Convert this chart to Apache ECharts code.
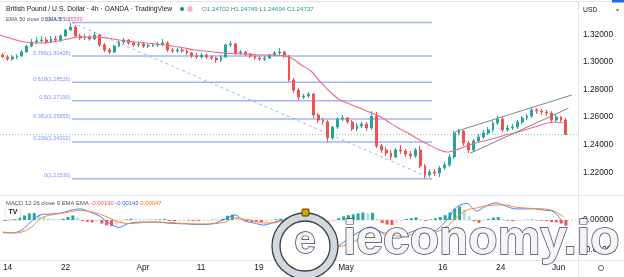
<!DOCTYPE html>
<html>
<head>
<meta charset="utf-8">
<script src="https://cdn.jsdelivr.net/npm/echarts@6/dist/echarts.min.js"></script>
<style>
html,body{margin:0;padding:0;background:#fff;}
#chart{width:624px;height:277px;}
</style>
</head>
<body>
<div id="chart"></div>
<script>
// ---------- DATA ----------
// 12-hour candles, Mar 11 (PM) .. Jun 1 (PM)
const candleOpen = [
1.3050,1.3036,1.3021,1.3036,1.3043,1.3072,1.3115,1.3144,1.3152,1.3159,
1.3144,1.3166,1.3159,1.3188,1.3231,1.3253,1.3188,1.3173,1.3181,1.3166,
1.3195,1.3123,1.3086,1.3072,1.3115,1.3144,1.3159,1.3137,1.3123,1.3130,
1.3115,1.3119,1.3123,1.3130,1.3137,1.3086,1.3079,1.3086,1.3079,1.3065,
1.3043,1.3036,1.3050,1.3036,1.3028,1.3014,1.3036,1.3123,1.3130,1.3065,
1.3072,1.3057,1.3043,1.3028,1.3021,1.3028,1.3050,1.3065,1.3072,1.3043,
1.2869,1.2796,1.2746,1.2753,1.2767,1.2615,1.2579,1.2565,1.2449,1.2528,
1.2586,1.2594,1.2565,1.2514,1.2536,1.2550,1.2521,1.2608,1.2391,1.2362,
1.2340,1.2311,1.2362,1.2354,1.2333,1.2318,1.2362,1.2246,1.2181,1.2202,
1.2195,1.2231,1.2253,1.2311,1.2485,1.2499,1.2412,1.2362,1.2427,1.2456,
1.2485,1.2507,1.2557,1.2586,1.2507,1.2521,1.2528,1.2565,1.2594,1.2608,
1.2652,1.2644,1.2637,1.2630,1.2579,1.2601,1.2579];
const candleClose = [
1.3036,1.3021,1.3036,1.3043,1.3072,1.3115,1.3144,1.3152,1.3159,1.3144,
1.3166,1.3159,1.3188,1.3231,1.3253,1.3188,1.3173,1.3181,1.3166,1.3195,
1.3123,1.3086,1.3072,1.3115,1.3144,1.3159,1.3137,1.3123,1.3130,1.3115,
1.3119,1.3123,1.3130,1.3137,1.3086,1.3079,1.3086,1.3079,1.3065,1.3043,
1.3036,1.3050,1.3036,1.3028,1.3014,1.3036,1.3123,1.3130,1.3065,1.3072,
1.3057,1.3043,1.3028,1.3021,1.3028,1.3050,1.3065,1.3072,1.3043,1.2869,
1.2796,1.2746,1.2753,1.2767,1.2615,1.2579,1.2565,1.2449,1.2528,1.2586,
1.2594,1.2565,1.2514,1.2536,1.2550,1.2521,1.2608,1.2391,1.2362,1.2340,
1.2311,1.2362,1.2354,1.2333,1.2318,1.2362,1.2246,1.2181,1.2202,1.2195,
1.2231,1.2253,1.2311,1.2485,1.2499,1.2412,1.2362,1.2427,1.2456,1.2485,
1.2507,1.2557,1.2586,1.2507,1.2521,1.2528,1.2565,1.2594,1.2608,1.2652,
1.2644,1.2637,1.2630,1.2579,1.2601,1.2579,1.24737];
const candleLow = [
1.3028,1.3007,1.3007,1.3021,1.3036,1.3065,1.3108,1.3130,1.3137,1.3130,
1.3137,1.3144,1.3144,1.3181,1.3224,1.3173,1.3159,1.3159,1.3152,1.3159,
1.3108,1.3072,1.3057,1.3065,1.3108,1.3130,1.3123,1.3108,1.3108,1.3101,
1.3101,1.3108,1.3108,1.3115,1.3072,1.3065,1.3065,1.3065,1.3050,1.3028,
1.3021,1.3028,1.3021,1.3014,1.2992,1.2999,1.3028,1.3108,1.3050,1.3050,
1.3043,1.3028,1.3014,1.3007,1.3007,1.3021,1.3043,1.3050,1.3028,1.2854,
1.2775,1.2724,1.2731,1.2738,1.2594,1.2557,1.2543,1.2420,1.2434,1.2514,
1.2572,1.2550,1.2499,1.2499,1.2521,1.2499,1.2507,1.2376,1.2340,1.2318,
1.2289,1.2304,1.2333,1.2311,1.2296,1.2304,1.2231,1.2153,1.2166,1.2173,
1.2166,1.2217,1.2239,1.2296,1.2470,1.2391,1.2340,1.2347,1.2412,1.2441,
1.2470,1.2492,1.2543,1.2492,1.2492,1.2507,1.2514,1.2550,1.2579,1.2594,
1.2623,1.2615,1.2608,1.2557,1.2565,1.2557,1.2469];
const candleHigh = [
1.3065,1.3050,1.3050,1.3057,1.3086,1.3123,1.3166,1.3181,1.3188,1.3181,
1.3188,1.3188,1.3202,1.3239,1.3284,1.3267,1.3202,1.3202,1.3195,1.3217,
1.3202,1.3137,1.3101,1.3123,1.3159,1.3173,1.3166,1.3152,1.3144,1.3144,
1.3130,1.3137,1.3144,1.3166,1.3152,1.3101,1.3101,1.3101,1.3094,1.3072,
1.3065,1.3065,1.3057,1.3050,1.3036,1.3050,1.3130,1.3152,1.3137,1.3086,
1.3079,1.3065,1.3050,1.3043,1.3043,1.3057,1.3079,1.3101,1.3079,1.3050,
1.2883,1.2811,1.2767,1.2782,1.2775,1.2630,1.2594,1.2579,1.2536,1.2601,
1.2615,1.2601,1.2579,1.2557,1.2565,1.2565,1.2644,1.2637,1.2405,1.2383,
1.2362,1.2376,1.2398,1.2369,1.2354,1.2376,1.2391,1.2260,1.2224,1.2224,
1.2246,1.2275,1.2333,1.2499,1.2514,1.2507,1.2427,1.2441,1.2478,1.2507,
1.2528,1.2572,1.2608,1.2601,1.2543,1.2550,1.2579,1.2608,1.2623,1.2666,
1.2666,1.2659,1.2652,1.2644,1.2623,1.2608,1.2594];

// EMA 50, one reading per trading day (day -1 .. 57, at mid-day)
const emaValues = [
1.3195,1.3173,1.3151,1.3141,1.3137,1.3141,1.3151,1.3166,1.3180,1.3180,
1.3180,1.3173,1.3162,1.3151,1.3144,1.3137,1.3130,1.3122,1.3112,1.3101,
1.3086,1.3079,1.3072,1.3064,1.3061,1.3057,1.3054,1.3050,1.3050,1.3046,
1.3028,1.2978,1.2934,1.2854,1.2782,1.2724,1.2695,1.2666,1.2637,1.2608,
1.2565,1.2521,1.2485,1.2441,1.2405,1.2369,1.2347,1.2362,1.2391,1.2412,
1.2430,1.2449,1.2470,1.2485,1.2507,1.2528,1.2550,1.2565,1.2557];

// MACD (12,26,9) per trading day
const macdLine = [
-0.0040,-0.0043,-0.0033,-0.0003,0.0018,0.0020,0.0023,0.0032,0.0037,0.0027,
0.0013,-0.0010,-0.0025,-0.0012,-0.0007,-0.0007,-0.0007,-0.0010,-0.0012,-0.0013,
-0.0015,-0.0015,-0.0010,0.0003,0.0017,-0.0003,-0.0010,-0.0017,-0.0008,0.0000,
-0.0027,-0.0057,-0.0080,-0.0093,-0.0100,-0.0080,-0.0057,-0.0037,-0.0023,-0.0037,
-0.0060,-0.0060,-0.0043,-0.0033,-0.0043,-0.0030,0.0003,0.0045,0.0055,0.0030,
0.0047,0.0057,0.0047,0.0037,0.0037,0.0037,0.0033,0.0027,-0.0010];
const signalLine = [
-0.0043,-0.0043,-0.0040,-0.0023,0.0007,0.0017,0.0022,0.0027,0.0032,0.0028,
0.0020,0.0007,-0.0007,-0.0012,-0.0010,-0.0007,-0.0007,-0.0008,-0.0010,-0.0012,
-0.0013,-0.0013,-0.0012,-0.0007,0.0007,0.0003,-0.0003,-0.0010,-0.0010,-0.0003,
-0.0010,-0.0030,-0.0053,-0.0073,-0.0087,-0.0087,-0.0077,-0.0060,-0.0043,-0.0040,
-0.0047,-0.0053,-0.0050,-0.0043,-0.0043,-0.0038,-0.0020,0.0010,0.0033,0.0040,
0.0047,0.0050,0.0050,0.0043,0.0040,0.0038,0.0037,0.0030,0.0010];
// MACD histogram per 12h bar
const macdHist = [
-0.0003,-0.0002,0.0002,0.0008,0.0015,0.0022,0.0023,0.0018,0.0010,0.0005,
0.0003,0.0002,0.0004,0.0010,0.0015,0.0008,-0.0003,-0.0006,-0.0008,-0.0006,
-0.0012,-0.0018,-0.0020,-0.0017,-0.0008,0.0002,0.0004,0.0003,0.0002,0.0001,
0.0001,0.0001,0.0002,0.0003,-0.0003,-0.0004,-0.0003,-0.0002,-0.0002,-0.0003,
-0.0003,-0.0002,-0.0001,0.0001,0.0001,0.0004,0.0014,0.0018,0.0010,0.0003,
-0.0004,-0.0006,-0.0007,-0.0007,-0.0005,-0.0002,0.0002,0.0004,0.0003,-0.0010,
-0.0020,-0.0027,-0.0028,-0.0026,-0.0030,-0.0025,-0.0020,-0.0016,-0.0005,0.0006,
0.0012,0.0016,0.0019,0.0022,0.0025,0.0022,0.0024,0.0005,-0.0010,-0.0015,
-0.0017,-0.0010,-0.0005,0.0003,0.0006,0.0009,0.0003,-0.0003,0.0002,0.0006,
0.0010,0.0016,0.0025,0.0038,0.0045,0.0035,0.0012,-0.0004,-0.0009,-0.0003,
0.0003,0.0008,0.0010,0.0004,-0.0002,-0.0004,-0.0002,-0.0001,0.0001,0.0002,
-0.0001,-0.0002,-0.0003,-0.0007,-0.0008,-0.0012,-0.0019];

// Fibonacci retracement drawing (anchored Mar 23 high -> May 13 low), in trading-day units
const fibRatios = [1, 0.786, 0.618, 0.5, 0.382, 0.236, 0];
const fibPrices = [1.32850, 1.30428, 1.28526, 1.27190, 1.25855, 1.24202, 1.21530];
const fibAnchors = [6.91, 43.97];
// Rising channel lines [day, price]
const channelUpper = [[46.34, 1.24942], [58.35, 1.27601]];
const channelLower = [[47.88, 1.23377], [58.00, 1.26638]];
const lastPrice = 1.24737;

// Axis ticks
const dayTicks = [0, 6, 14, 20, 26, 35, 45, 51, 57];
const dayTickLabels = ['14', '22', 'Apr', '11', '19', 'May', '16', '24', 'Jun'];
const priceTicks = [1.22, 1.24, 1.26, 1.28, 1.30, 1.32];
const macdTicks = [0, -0.01];
const barCount = 119;

// ---------- CHART ----------
const categories = Array.from({length: barCount}, (_, i) => 'b' + i);
const FONT = '"Liberation Sans", Arial, sans-serif';
const UP = '#26a69a', DOWN = '#ef5350';

const candleData = candleOpen.map((o, i) => [o, candleClose[i], candleLow[i], candleHigh[i]]);
const dayPairs = arr => arr.map((v, i) => [i - 0.5, v]);

function histColor(i) {
  const v = macdHist[i], p = i > 0 ? macdHist[i - 1] : 0;
  if (v >= 0) return v >= p ? '#26a69a' : '#b2dfdb';
  return v <= p ? '#ff5252' : '#ffcdd2';
}

const series = [];
fibPrices.forEach((p, i) => {
  series.push({
    type: 'line', xAxisIndex: 1, yAxisIndex: 0, symbol: 'none', silent: true, z: 1,
    data: [[fibAnchors[0], p], [fibAnchors[1], p]],
    lineStyle: {color: '#a3b5f8', width: 1.5}
  });
});
series.push({
  type: 'scatter', xAxisIndex: 1, yAxisIndex: 0, symbolSize: 1, z: 1,
  itemStyle: {color: 'rgba(0,0,0,0)'},
  data: fibPrices.map((p, i) => ({value: [fibAnchors[0], p],
    label: {formatter: fibRatios[i] + '(' + p.toFixed(5) + ')'}})),
  label: {show: true, position: 'left', distance: 1, offset: [0, -3],
    fontSize: 5.5, fontFamily: FONT, color: '#5a7bf5'}
});
series.push({
  type: 'line', xAxisIndex: 1, yAxisIndex: 0, symbol: 'none', z: 1,
  data: [[fibAnchors[0], fibPrices[0]], [fibAnchors[1], fibPrices[6]]],
  lineStyle: {color: '#9fb2f7', width: 1, type: [3, 3]}
});
series.push({
  type: 'line', xAxisIndex: 1, yAxisIndex: 0, symbol: 'none', z: 1,
  data: [[-0.5, lastPrice], [59, lastPrice]],
  lineStyle: {color: '#7fcfc6', width: 1, type: [1, 2]}
});
series.push({
  type: 'candlestick', xAxisIndex: 0, yAxisIndex: 0, z: 3,
  data: candleData, barMaxWidth: 2.4,
  itemStyle: {color: UP, color0: DOWN, borderColor: UP, borderColor0: DOWN, borderWidth: 1}
});
series.push({
  type: 'line', xAxisIndex: 1, yAxisIndex: 0, symbol: 'none', smooth: 0.3, z: 4,
  data: dayPairs(emaValues), lineStyle: {color: '#f0668a', width: 1.1}
});
[channelUpper, channelLower].forEach(c => series.push({
  type: 'line', xAxisIndex: 1, yAxisIndex: 0, symbol: 'none', z: 5,
  data: c, lineStyle: {color: '#80838d', width: 1}
}));
series.push({
  type: 'line', xAxisIndex: 3, yAxisIndex: 1, symbol: 'none', z: 1,
  data: [[-0.5, 0], [59, 0]], lineStyle: {color: '#d0d2d8', width: 1, type: [2, 2]}
});
series.push({
  type: 'bar', xAxisIndex: 2, yAxisIndex: 1, barWidth: '62%', z: 2,
  data: macdHist.map((v, i) => ({value: v, itemStyle: {color: histColor(i)}}))
});
series.push({
  type: 'line', xAxisIndex: 3, yAxisIndex: 1, symbol: 'none', smooth: 0.3, z: 3,
  data: dayPairs(macdLine), lineStyle: {color: '#4a7dff', width: 1}
});
series.push({
  type: 'line', xAxisIndex: 3, yAxisIndex: 1, symbol: 'none', smooth: 0.3, z: 3,
  data: dayPairs(signalLine), lineStyle: {color: '#ff8a2a', width: 1}
});

const axisTextColor = '#131722';
const option = {
  animation: false,
  backgroundColor: '#ffffff',
  grid: [
    {left: 0, right: 46, top: 2, bottom: 82},
    {left: 0, right: 46, top: 196, bottom: 17}
  ],
  xAxis: [
    {type: 'category', gridIndex: 0, data: categories, show: false, boundaryGap: true},
    {type: 'value', gridIndex: 0, min: -0.5, max: 59, show: false},
    {type: 'category', gridIndex: 1, data: categories, show: false, boundaryGap: true},
    {type: 'value', gridIndex: 1, min: -0.5, max: 59, position: 'bottom',
      axisLine: {show: false}, axisTick: {show: false}, splitLine: {show: false},
      axisLabel: {customValues: dayTicks, margin: 4, fontSize: 8.3, fontFamily: FONT, color: axisTextColor,
        formatter: v => dayTickLabels[dayTicks.indexOf(v)] || ''}}
  ],
  yAxis: [
    {type: 'value', gridIndex: 0, position: 'right', min: 1.20356, max: 1.34341,
      axisLine: {show: false}, axisTick: {show: false}, splitLine: {show: false},
      axisLabel: {customValues: priceTicks, margin: 5, fontSize: 8.3, fontFamily: FONT, color: axisTextColor,
        formatter: v => v.toFixed(5)}},
    {type: 'value', gridIndex: 1, position: 'right', min: -0.013333, max: 0.008,
      axisLine: {show: false}, axisTick: {show: false}, splitLine: {show: false},
      axisLabel: {customValues: macdTicks, margin: 5, fontSize: 8.3, fontFamily: FONT, color: axisTextColor,
        formatter: v => v.toFixed(5)}}
  ],
  title: [
    {text: 'British Pound / U.S. Dollar · 4h · OANDA · TradingView', left: 6, top: 5.5, padding: 0,
      textStyle: {fontSize: 6.8, fontWeight: 'normal', fontFamily: FONT, color: '#131722'}},
    {text: '{l|O}{v|1.24702} {l|H}{v|1.24749} {l|L}{v|1.24694} {l|C}{v|1.24737}', left: 202, top: 6, padding: 0,
      textStyle: {fontSize: 6.2, fontWeight: 'normal', fontFamily: FONT,
        rich: {l: {color: '#5f7f7c', fontSize: 6.2, fontFamily: FONT}, v: {color: '#1f9e8f', fontSize: 6.2, fontFamily: FONT}}}},
    {text: '{a|EMA 50 close 0 SMA 5} {b|1.25569}', left: 6, top: 17.3, padding: 0,
      textStyle: {fontSize: 5.4, fontWeight: 'normal', fontFamily: FONT,
        rich: {a: {color: '#50535e', fontSize: 5.4, fontFamily: FONT}, b: {color: '#f0668a', fontSize: 5.4, fontFamily: FONT}}}},
    {text: '{a|MACD 12 26 close 9 EMA EMA} {r|-0.00190} {b|-0.00143} {o|0.00047}', left: 6, top: 200, padding: 0,
      textStyle: {fontSize: 5.9, fontWeight: 'normal', fontFamily: FONT,
        rich: {a: {color: '#50535e', fontSize: 5.9, fontFamily: FONT}, r: {color: '#ff5252', fontSize: 5.9, fontFamily: FONT},
               b: {color: '#2962ff', fontSize: 5.9, fontFamily: FONT}, o: {color: '#ff6d00', fontSize: 5.9, fontFamily: FONT}}}}
  ],
  graphic: [
    {type: 'line', z: 50, shape: {x1: 0, y1: 1.5, x2: 612, y2: 1.5}, style: {stroke: '#e0e3eb', lineWidth: 1}},
    {type: 'rect', z: 50, shape: {x: 612, y: 0, width: 12, height: 2.5}, style: {fill: '#2962ff'}},
    {type: 'line', z: 50, shape: {x1: 578.5, y1: 2, x2: 578.5, y2: 277}, style: {stroke: '#e0e3eb', lineWidth: 1}},
    {type: 'line', z: 50, shape: {x1: 0, y1: 195.5, x2: 624, y2: 195.5}, style: {stroke: '#e0e3eb', lineWidth: 1}},
    {type: 'line', z: 50, shape: {x1: 0, y1: 260.5, x2: 624, y2: 260.5}, style: {stroke: '#e0e3eb', lineWidth: 1}},
    {type: 'text', z: 50, x: 583, y: 10, style: {text: 'USD', fill: '#131722', font: '6.8px ' + FONT, verticalAlign: 'middle'}},
    {type: 'text', z: 50, x: 616, y: 10, style: {text: '▾', fill: '#787b86', font: '6px "DejaVu Sans"', verticalAlign: 'middle'}},
    {type: 'circle', z: 50, shape: {cx: 601, cy: 268, r: 2.6}, style: {fill: 'none', stroke: '#6a6d78', lineWidth: 1}},
    {type: 'circle', z: 50, shape: {cx: 182, cy: 9, r: 2}, style: {fill: '#089981'}},
    {type: 'rect', z: 50, shape: {x: 187.5, y: 6.5, width: 5, height: 5, r: 1}, style: {fill: '#f7b0c0'}},
    {type: 'rect', z: 50, shape: {x: 6, y: 206, width: 14, height: 13, r: 3},
      style: {fill: '#ffffff', shadowBlur: 3, shadowColor: 'rgba(0,0,0,0.25)'}},
    {type: 'text', z: 51, x: 13, y: 212.5, style: {text: 'TV', fill: '#131722', font: 'bold 7px ' + FONT, align: 'center', verticalAlign: 'middle'}},
    // watermark logo
    {type: 'circle', z: 100, shape: {cx: 305, cy: 246, r: 29}, style: {fill: 'none', stroke: '#d3d7de', lineWidth: 8}},
    {type: 'circle', z: 101, shape: {cx: 305, cy: 246, r: 33}, style: {fill: 'none', stroke: '#3a3e48', lineWidth: 1.3}},
    {type: 'circle', z: 101, shape: {cx: 305, cy: 246, r: 25}, style: {fill: '#ffffff', stroke: '#3a3e48', lineWidth: 1.3}},
    {type: 'text', z: 103, x: 305, y: 243, style: {text: 'e', fill: '#f4f6fa', stroke: '#3a3e48', lineWidth: 1.4,
      font: 'bold 38px ' + FONT, align: 'center', verticalAlign: 'middle'}},
    {type: 'rect', z: 103, shape: {x: 302, y: 209, width: 7, height: 7, r: 1}, style: {fill: '#d9a400', stroke: '#4a3d00', lineWidth: 1}},
    // watermark text
    {type: 'text', z: 104, x: 343, y: 241, style: {text: 'ieconomy.io',
      fill: '#f3f5f9', stroke: '#3a3e48', lineWidth: 1.4, font: 'bold 48px ' + FONT, verticalAlign: 'middle'}}
  ],
  series: series
};

const chart = echarts.init(document.getElementById('chart'), null, {renderer: 'canvas', width: 624, height: 277});
chart.setOption(option);
</script>
</body>
</html>
